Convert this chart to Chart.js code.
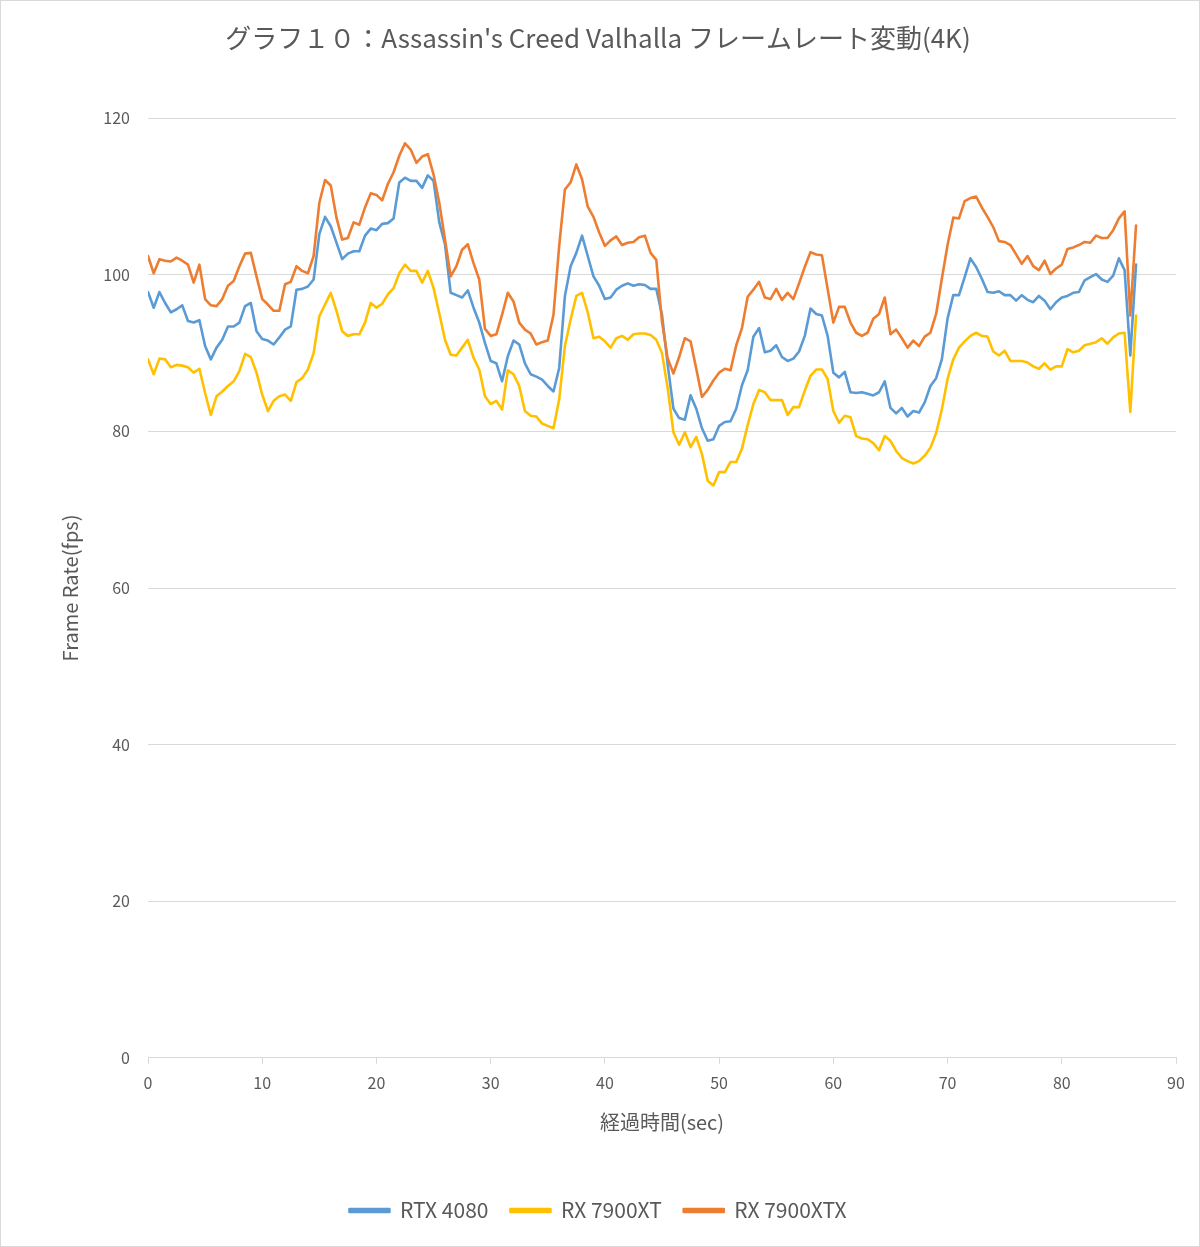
<!DOCTYPE html>
<html>
<head>
<meta charset="utf-8">
<script src="https://cdn.jsdelivr.net/npm/chart.js@4.4.1/dist/chart.umd.min.js"></script>
<style>
  html, body { margin: 0; padding: 0; background: #ffffff; }
  #wrap { width: 1200px; height: 1247px; }
</style>
</head>
<body>
<div id="wrap"><canvas id="c" width="1200" height="1247"></canvas></div>
<script>
const titleText = "グラフ１０：Assassin's Creed Valhalla フレームレート変動(4K)";
const xAxisTitle = "経過時間(sec)";
const yAxisTitle = "Frame Rate(fps)";
const seriesNames = ["RTX 4080", "RX 7900XT", "RX 7900XTX"];
const xTicks = [0, 10, 20, 30, 40, 50, 60, 70, 80, 90];
const yTicks = [0, 20, 40, 60, 80, 100, 120];

const timeSec = [
  0,0.5,1,1.5,2,2.5,3,3.5,4,4.5,5,5.5,6,6.5,7,7.5,8,8.5,9,9.5,
  10,10.5,11,11.5,12,12.5,13,13.5,14,14.5,15,15.5,16,16.5,17,17.5,18,18.5,19,19.5,
  20,20.5,21,21.5,22,22.5,23,23.5,24,24.5,25,25.5,26,26.5,27,27.5,28,28.5,29,29.5,
  30,30.5,31,31.5,32,32.5,33,33.5,34,34.5,35,35.5,36,36.5,37,37.5,38,38.5,39,39.5,
  40,40.5,41,41.5,42,42.5,43,43.5,44,44.5,45,45.5,46,46.5,47,47.5,48,48.5,49,49.5,
  50,50.5,51,51.5,52,52.5,53,53.5,54,54.5,55,55.5,56,56.5,57,57.5,58,58.5,59,59.5,
  60,60.5,61,61.5,62,62.5,63,63.5,64,64.5,65,65.5,66,66.5,67,67.5,68,68.5,69,69.5,
  70,70.5,71,71.5,72,72.5,73,73.5,74,74.5,75,75.5,76,76.5,77,77.5,78,78.5,79,79.5,
  80,80.5,81,81.5,82,82.5,83,83.5,84,84.5,85,85.5,86,86.5
];

const rtx4080 = [
  97.8,95.8,97.8,96.4,95.2,95.6,96.1,94.1,93.9,94.2,90.9,89.2,90.7,91.7,93.4,93.4,93.9,96.0,96.4,92.8,
  91.8,91.6,91.1,92.0,93.0,93.4,98.1,98.2,98.5,99.4,
  105.2,107.4,106.2,104.1,102.0,102.7,103.0,103.0,105.0,105.9,105.7,106.5,106.6,107.2,111.8,112.4,112.0,112.0,111.1,112.7,
  112.0,106.7,103.9,97.7,97.4,97.1,98.0,95.8,
  93.9,91.3,89.0,88.7,86.4,89.6,91.6,91.1,88.7,87.3,87.0,86.6,85.8,85.1,88.1,97.3,101.1,102.8,105.0,102.4,
  99.8,98.6,96.9,97.1,98.1,98.6,98.9,98.6,
  98.8,98.7,98.2,98.2,94.9,88.5,82.9,81.7,81.5,84.6,82.9,80.4,78.8,79.0,80.7,81.2,81.3,82.9,85.9,87.8,
  92.1,93.2,90.1,90.3,91.0,89.5,89.0,89.3,90.2,
  92.2,95.7,95.0,94.8,92.2,87.5,86.9,87.6,85.0,84.9,85.0,84.8,84.6,85.0,86.4,83.0,82.3,83.0,81.9,82.6,
  82.4,83.7,85.8,86.8,89.2,94.4,97.4,97.4,99.7,
  102.1,101.0,99.5,97.8,97.7,97.9,97.4,97.4,96.7,97.4,96.8,96.5,97.3,96.7,95.6,96.5,97.1,97.3,97.7,97.8,
  99.3,99.7,100.1,99.4,99.1,99.9,102.1,100.6,89.7,101.3
];

const rx7900xt = [
  89.2,87.3,89.3,89.2,88.2,88.5,88.4,88.2,87.5,88.0,84.9,82.1,84.5,85.1,85.8,86.4,87.7,89.9,89.5,87.5,
  84.7,82.6,83.9,84.5,84.7,83.9,86.3,86.8,87.9,90.0,
  94.7,96.2,97.7,95.4,92.8,92.2,92.4,92.4,93.9,96.4,95.8,96.3,97.5,98.3,100.2,101.3,100.5,100.5,99.0,100.5,
  98.3,95.1,91.7,89.8,89.7,90.7,91.7,89.4,
  87.9,84.5,83.5,83.9,82.8,87.8,87.3,85.8,82.6,82.0,81.9,81.0,80.7,80.4,84.1,90.9,94.3,97.3,97.7,95.2,
  91.9,92.1,91.5,90.7,91.9,92.2,91.7,92.4,
  92.5,92.5,92.3,91.7,90.0,85.5,79.9,78.3,79.9,78.0,79.3,77.1,73.7,73.1,74.8,74.8,76.1,76.1,77.8,80.8,
  83.5,85.3,85.0,84.0,84.0,84.0,82.1,83.1,83.1,
  85.2,87.1,87.9,87.9,86.7,82.6,81.1,82.0,81.8,79.4,79.1,79.0,78.5,77.6,79.4,78.8,77.5,76.6,76.2,75.9,
  76.2,76.9,77.9,79.8,82.8,86.7,89.2,90.7,91.5,
  92.2,92.6,92.2,92.1,90.2,89.7,90.3,89.0,89.0,89.0,88.8,88.3,88.0,88.7,87.9,88.3,88.3,90.5,90.1,90.3,
  91.0,91.2,91.4,91.9,91.2,92.0,92.5,92.6,82.5,94.8
];

const rx7900xtx = [
  102.4,100.2,102.0,101.8,101.7,102.2,101.8,101.3,99.0,101.3,96.9,96.1,96.0,96.9,98.6,99.2,101.1,102.7,102.8,99.8,
  96.9,96.2,95.4,95.4,98.8,99.1,101.1,100.5,100.2,102.4,
  109.2,112.1,111.4,107.3,104.5,104.7,106.7,106.4,108.6,110.4,110.2,109.5,111.6,113.1,115.2,116.8,116.0,114.3,115.1,115.4,
  112.8,109.2,104.5,99.8,101.1,103.2,103.9,101.5,
  99.4,93.1,92.2,92.4,94.9,97.7,96.6,93.9,93.0,92.5,91.1,91.4,91.6,94.9,103.7,110.9,111.8,114.1,112.2,108.7,
  107.4,105.4,103.7,104.4,104.9,103.8,104.1,104.2,
  104.8,105.0,102.8,101.9,94.0,89.3,87.4,89.5,91.9,91.5,88.0,84.4,85.3,86.5,87.5,88.0,87.8,91.0,93.2,97.2,
  98.1,99.1,97.1,96.9,98.2,96.8,97.7,96.9,98.9,
  101.0,102.9,102.6,102.5,98.2,93.9,95.9,95.9,93.9,92.6,92.2,92.6,94.4,95.0,97.1,92.4,93.0,91.9,90.7,91.6,
  90.9,92.1,92.6,95.0,99.5,103.8,107.3,107.2,109.4,
  109.8,110.0,108.6,107.4,106.1,104.3,104.2,103.8,102.6,101.4,102.4,101.1,100.6,101.8,100.1,100.8,101.3,103.3,103.5,103.8,
  104.2,104.1,105.0,104.7,104.7,105.7,107.2,108.1,94.8,106.3
];

const colors = ["#5B9BD5", "#FFC000", "#ED7D31"];
const seriesValues = [rtx4080, rx7900xt, rx7900xtx];
const drawOrder = [2, 1, 0];

const textColor = "#595959";
const gridColor = "#D9D9D9";
const fam = "'Noto Sans CJK JP', 'Noto Sans', sans-serif";

const datasets = seriesNames.map((name, i) => ({
  label: name,
  data: timeSec.map((t, k) => ({ x: t, y: seriesValues[i][k] })),
  borderColor: colors[i],
  backgroundColor: colors[i],
  borderWidth: 2.6,
  pointRadius: 0,
  pointHoverRadius: 0,
  tension: 0,
  fill: false,
  borderJoinStyle: 'round',
  borderCapStyle: 'round',
  order: drawOrder[i]
}));

const borderPlugin = {
  id: 'outerBorder',
  afterDraw(chart) {
    const ctx = chart.ctx;
    ctx.save();
    ctx.strokeStyle = gridColor;
    ctx.lineWidth = 1;
    ctx.strokeRect(0.5, 0.5, chart.width - 1, chart.height - 1);
    ctx.restore();
  }
};

const bgPlugin = {
  id: 'bg',
  beforeDraw(chart) {
    const ctx = chart.ctx;
    ctx.save();
    ctx.fillStyle = '#ffffff';
    ctx.fillRect(0, 0, chart.width, chart.height);
    ctx.restore();
  }
};

new Chart(document.getElementById('c'), {
  type: 'line',
  data: { datasets },
  plugins: [bgPlugin, borderPlugin],
  options: {
    responsive: false,
    animation: false,
    devicePixelRatio: 1,
    layout: { padding: { left: 20, right: 24, top: 0, bottom: 16 } },
    plugins: {
      tooltip: { enabled: false },
      title: {
        display: true,
        text: titleText,
        color: textColor,
        font: { family: fam, size: 26, weight: 'normal' },
        padding: { top: 23, bottom: 64 }
      },
      legend: {
        display: true,
        position: 'bottom',
        labels: {
          color: textColor,
          font: { family: fam, size: 21 },
          boxWidth: 40,
          boxHeight: 3,
          padding: 22,
          sort: (a, b) => a.datasetIndex - b.datasetIndex
        }
      }
    },
    scales: {
      x: {
        type: 'linear',
        min: 0,
        max: 90,
        afterBuildTicks: (axis) => { axis.ticks = xTicks.map(v => ({ value: v })); },
        ticks: {
          color: textColor,
          font: { family: fam, size: 16 },
          padding: 10,
          maxRotation: 0
        },
        grid: {
          drawOnChartArea: false,
          drawTicks: true,
          tickLength: 6,
          color: gridColor
        },
        border: { display: true, color: gridColor, width: 1 },
        title: {
          display: true,
          text: xAxisTitle,
          color: textColor,
          font: { family: fam, size: 20 },
          padding: { top: 7, bottom: 44 }
        }
      },
      y: {
        type: 'linear',
        min: 0,
        max: 120,
        afterBuildTicks: (axis) => { axis.ticks = yTicks.map(v => ({ value: v })); },
        afterFit: (axis) => { axis.width = 128; },
        ticks: {
          color: textColor,
          font: { family: fam, size: 16 },
          padding: 18
        },
        grid: {
          drawTicks: false,
          color: gridColor,
          lineWidth: 1
        },
        border: { display: false },
        title: {
          display: true,
          text: yAxisTitle,
          color: textColor,
          font: { family: fam, size: 20 },
          padding: { top: 38, bottom: 0 }
        }
      }
    }
  }
});
</script>
</body>
</html>
